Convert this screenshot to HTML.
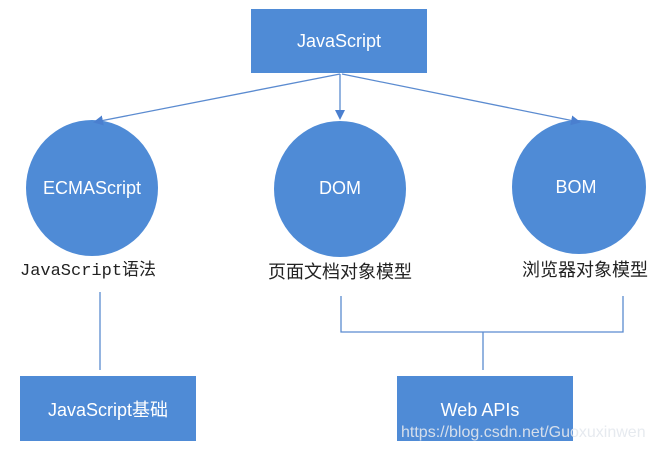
<!DOCTYPE html>
<html><head><meta charset="utf-8"><style>
html,body{margin:0;padding:0;background:#fff;}
svg{display:block}
</style></head><body>
<svg width="653" height="451" viewBox="0 0 653 451" xmlns="http://www.w3.org/2000/svg">
<defs><marker id="a" markerWidth="10" markerHeight="10" refX="8" refY="5" orient="auto" markerUnits="userSpaceOnUse"><path d="M0,0 L10,5 L0,10 z" fill="#4a7fcf"/></marker></defs>
<g fill="#4f8bd6">
<rect x="251" y="9" width="176" height="64"/>
<ellipse cx="92" cy="188" rx="66" ry="68"/>
<ellipse cx="340" cy="189" rx="66" ry="68"/>
<ellipse cx="579" cy="187" rx="67" ry="67"/>
<rect x="20" y="376" width="176" height="65"/>
<rect x="397" y="376" width="176" height="65"/>
</g>
<g stroke="#5b8bd0" stroke-width="1.3" fill="none">
<line x1="340" y1="74" x2="95" y2="122" marker-end="url(#a)"/>
<line x1="340" y1="74" x2="340" y2="118" marker-end="url(#a)"/>
<line x1="342" y1="74" x2="579" y2="122" marker-end="url(#a)"/>
<line x1="100" y1="292" x2="100" y2="370"/>
<polyline points="341,296 341,332 623,332 623,296"/>
<line x1="483" y1="332" x2="483" y2="370"/>
</g>
<g font-family="Liberation Sans, sans-serif" fill="#fff" text-anchor="middle" font-size="18">
<text x="339" y="47">JavaScript</text>
<text x="92" y="194">ECMAScript</text>
<text x="340" y="194">DOM</text>
<text x="576" y="193">BOM</text>
<text x="108" y="416" font-family="Liberation Sans, Noto Sans CJK SC, sans-serif">JavaScript基础</text>
<text x="480" y="416">Web APIs</text>
</g>
<text x="20" y="275" font-family="Liberation Mono, Noto Sans CJK SC, monospace" font-size="17" fill="#222">JavaScript<tspan font-family="Noto Sans CJK SC, sans-serif">语法</tspan></text>
<text x="340" y="278" text-anchor="middle" font-family="Noto Sans CJK SC, sans-serif" font-size="18" fill="#222">页面文档对象模型</text>
<text x="585" y="276" text-anchor="middle" font-family="Noto Sans CJK SC, sans-serif" font-size="18" fill="#222">浏览器对象模型</text>
<text x="401" y="437" font-family="Liberation Sans, sans-serif" font-size="16" fill="#e4e8ee" opacity="0.9">https://blog.csdn.net/Guoxuxinwen</text>
</svg>
</body></html>
